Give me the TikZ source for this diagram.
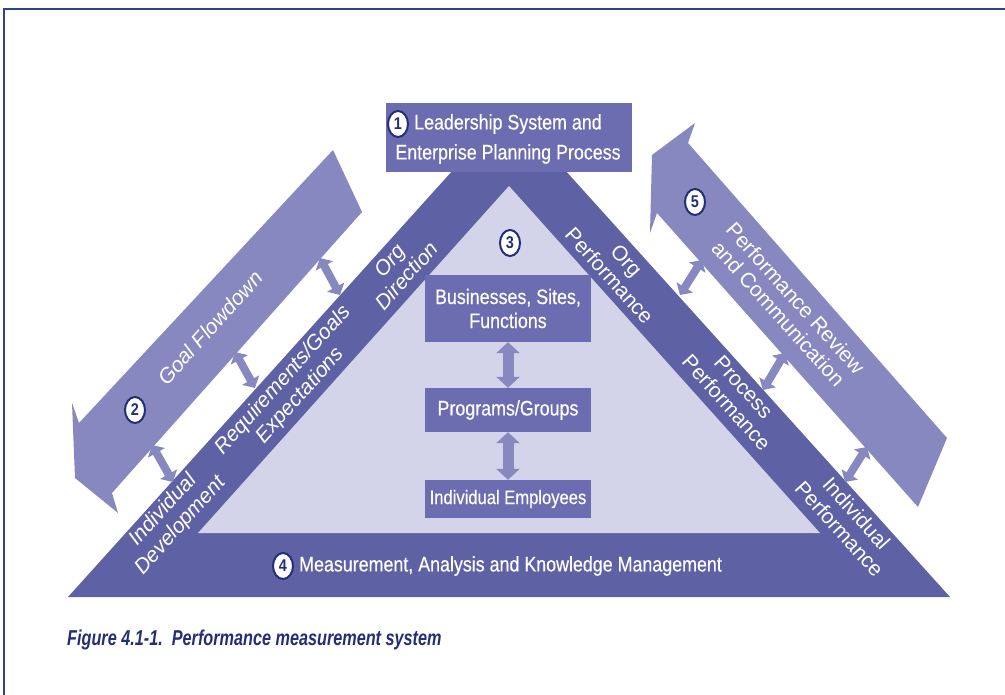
\documentclass[tikz,border=0pt]{standalone}
\usepackage{fontspec}
\setmainfont{Liberation Sans}
\newfontfamily\condfont[FakeStretch=0.85,FakeBold=0.4]{Liberation Sans}
\newfontfamily\numfont[FakeStretch=0.85]{Liberation Sans}
\newfontfamily\capfont[FakeStretch=0.755]{Liberation Sans}
\usetikzlibrary{shapes.geometric,arrows.meta}
\definecolor{band}{RGB}{94,97,163}
\definecolor{boxc}{RGB}{108,109,176}
\definecolor{innerc}{RGB}{211,212,234}
\definecolor{arrc}{RGB}{135,136,191}
\definecolor{navy}{RGB}{36,46,120}
\definecolor{framec}{RGB}{46,66,150}
\tikzset{
 lbl/.style={text=white, align=center, font=\fontsize{21}{23}\selectfont\itshape, inner sep=0pt},
 rlbl/.style={text=white, align=center, font=\fontsize{21}{23}\selectfont, inner sep=0pt},
 ctext/.style={text=white, font=\condfont\fontsize{21}{24}\selectfont, inner sep=0pt},
 numc/.style={ellipse, draw=navy, line width=2pt, fill=white, text=navy, inner sep=0pt, minimum width=20pt, minimum height=26pt, font=\numfont\bfseries\fontsize{17}{17}\selectfont},
 ibox/.style={fill=boxc, minimum width=166pt, text=white, inner sep=0pt, align=center, font=\condfont\fontsize{21}{24}\selectfont},
 dblv/.style={draw=arrc, line width=11pt, {Triangle[width=23pt,length=11pt]}-{Triangle[width=23pt,length=11pt]}},
 dbls/.style={draw=arrc, line width=8pt, {Triangle[width=19pt,length=9pt]}-{Triangle[width=19pt,length=9pt]}},
 sidearr/.style={fill=arrc}
}
\begin{document}
\begin{tikzpicture}[x=1pt,y=-1pt]
\useasboundingbox (0,0) rectangle (1005,695);
\fill[white] (0,0) rectangle (1005,695);
\draw[framec, line width=2.5pt] (4,695) -- (4,9) -- (1005,9);
% triangle
\fill[band] (68,597) -- (509,108) -- (950,597) -- cycle;
\fill[innerc] (198,533) -- (509,186) -- (820,533) -- cycle;
% side arrows
\fill[sidearr] (333,150) -- (362,212) -- (112,493) -- (118,513) -- (75,478) -- (72,403) -- (79,423) -- cycle;
\fill[sidearr] (695,123) -- (688,143) -- (947,438) -- (918,507) -- (657,213) -- (650,233) -- (652,155) -- cycle;
% top box
\node[fill=boxc, minimum width=246pt, minimum height=69pt, inner sep=0pt] (lead) at (508.5,138) {};
\node[numc] (n1) at (398,124) {1};
\node[ctext, anchor=west] (t1) at (414,124) {Leadership System and};
\node[ctext] (t1b) at (508,154) {Enterprise Planning Process};
% inner boxes
\node[numc] (n3) at (510,243) {3};
\node[ibox, minimum height=67pt] (bus) at (508,308.5) {Businesses, Sites,\\Functions};
\node[ibox, minimum height=44pt] (prog) at (508,410) {Programs/Groups};
\node[ibox, minimum height=38pt, font=\condfont\fontsize{19.5}{22}\selectfont] (emp) at (508,499) {Individual Employees};
\draw[dblv] (bus.south) -- (prog.north);
\draw[dblv] (prog.south) -- (emp.north);
% bottom
\node[numc] (n4) at (283,566) {4};
\node[ctext, anchor=west] (meas) at (299,566) {Measurement, Analysis and Knowledge Management};
% small arrows left
\coordinate (la1) at (320,258); \coordinate (lb1) at (340,295);
\coordinate (la2) at (235,352); \coordinate (lb2) at (255,388);
\coordinate (la3) at (152,445); \coordinate (lb3) at (173,482);
\draw[dbls] (la1) -- (lb1);
\draw[dbls] (la2) -- (lb2);
\draw[dbls] (la3) -- (lb3);
% small arrows right
\coordinate (ra1) at (702,260); \coordinate (rb1) at (680,295);
\coordinate (ra2) at (785,353); \coordinate (rb2) at (763,390);
\coordinate (ra3) at (867,447); \coordinate (rb3) at (845,482);
\draw[dbls] (ra1) -- (rb1);
\draw[dbls] (ra2) -- (rb2);
\draw[dbls] (ra3) -- (rb3);
% left labels
\node[lbl, rotate=48] (goal) at (210,328) {Goal Flowdown};
\node[numc] (n2) at (135,410) {2};
\node[lbl, rotate=48] (indiv) at (172,518) {Individual\\Development};
\node[lbl, rotate=48] (req) at (292,388) {Requirements/Goals\\Expectations};
\node[lbl, rotate=48] (orgd) at (398,268) {Org\\Direction};
% right labels
\node[rlbl, rotate=-48] (orgp) at (618,268) {Org\\Performance};
\node[rlbl, rotate=-48] (procp) at (735,395) {Process\\Performance};
\node[rlbl, rotate=-48] (indp) at (848,521) {Individual\\Performance};
\node[rlbl, rotate=-48] (prc) at (787,306) {Performance Review\\and Communication};
\node[numc] (n5) at (695,202) {5};
% caption
\node[anchor=west, text=navy, inner sep=0pt, font=\capfont\bfseries\itshape\fontsize{21.5}{23}\selectfont] (cap) at (67,640) {Figure 4.1-1.\ \ Performance measurement system};
\end{tikzpicture}
\end{document}
